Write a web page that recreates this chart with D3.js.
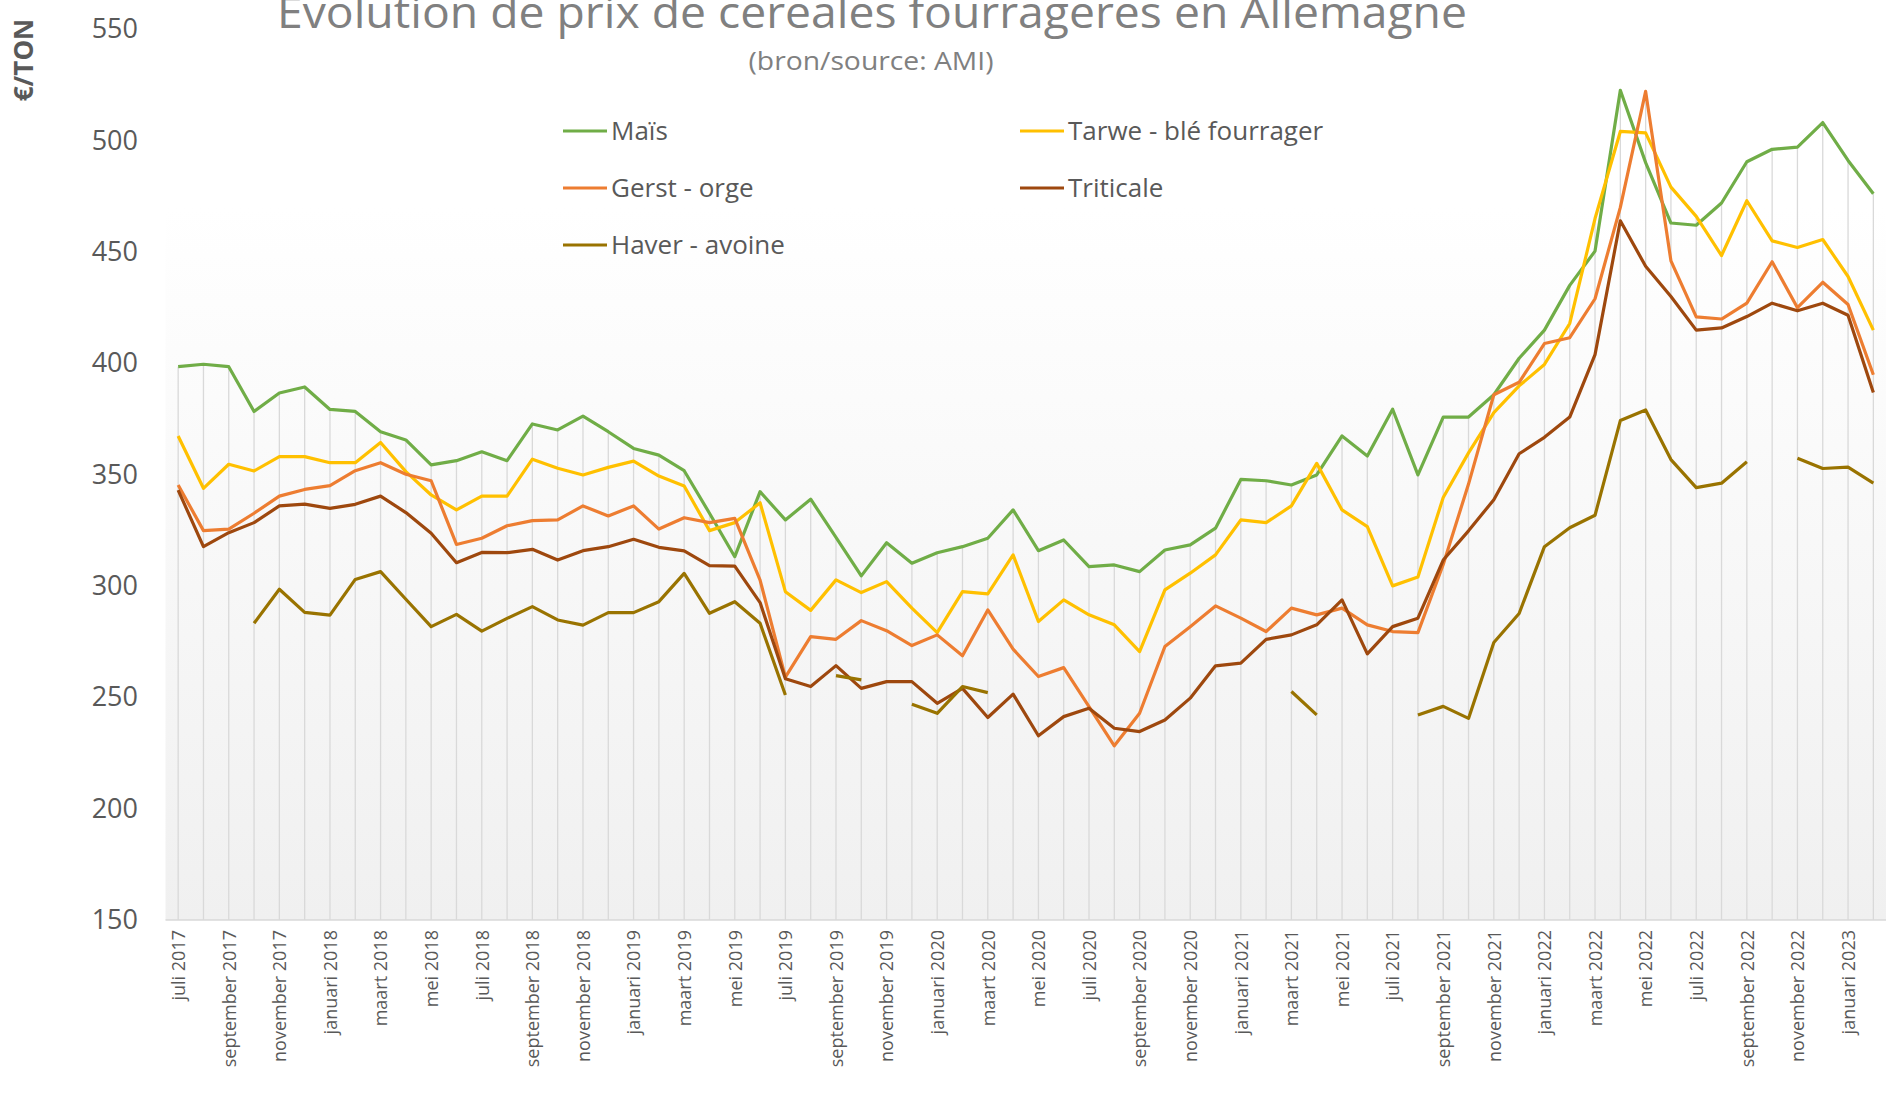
<!DOCTYPE html>
<html>
<head>
<meta charset="utf-8">
<script src="https://cdn.jsdelivr.net/npm/d3@7"></script>
<style>
  html, body { margin: 0; padding: 0; background: #fff; }
  svg { display: block; }
  text { font-family: "Open Sans", "Noto Sans", sans-serif; }
</style>
</head>
<body>
<div id="chart"></div>
<script>
// monthly categories, juli 2017 .. februari 2023
const monthNames = ['januari','februari','maart','april','mei','juni','juli','augustus','september','oktober','november','december'];
const months = d3.range(68).map(i => {
  const m = (6 + i) % 12;
  const y = 2017 + Math.floor((6 + i) / 12);
  return monthNames[m] + ' ' + y;
});

const mais = [398.4,399.5,398.4,378.3,386.6,389.3,379.2,378.3,369.2,365.5,354.3,356.2,
  360.2,356.2,372.7,370.0,376.2,369.2,361.7,358.7,351.7,332.6,313.1,342.3,
  329.6,338.9,321.8,304.5,319.4,310.2,314.9,317.6,321.4,334.1,315.8,320.6,
  308.6,309.4,306.4,316.1,318.4,325.9,347.8,347.2,345.3,349.8,367.3,358.3,
  379.3,349.8,375.8,375.8,385.8,402.2,414.8,434.9,450.3,522.5,490.0,462.9,
  461.9,471.9,490.4,496.0,497.0,508.0,491.0,476.0];

const tarwe = [367.3,343.8,354.6,351.6,358.0,358.0,355.3,355.3,364.4,351.3,340.8,334.1,
  340.3,340.3,356.9,352.8,349.8,353.2,356.0,349.3,344.8,324.8,328.4,337.3,
  297.4,289.0,302.7,297.0,301.9,290.0,279.0,297.4,296.4,313.9,284.0,293.7,
  287.0,282.5,270.5,298.2,305.7,313.9,329.6,328.4,335.9,355.0,334.1,326.6,
  300.0,304.0,339.7,359.7,377.8,389.8,399.4,417.8,464.9,504.0,503.4,479.0,
  465.9,448.3,472.9,454.9,451.9,455.5,438.9,414.8];

const gerst = [345.3,324.8,325.5,332.6,340.3,343.3,345.0,351.7,355.3,350.1,347.2,318.6,
  321.4,327.0,329.3,329.6,335.9,331.4,335.9,325.5,330.6,328.4,330.3,302.6,
  259.0,277.2,276.0,284.4,279.9,273.2,278.0,268.6,289.2,271.6,259.3,263.3,
  245.8,228.2,242.8,272.8,281.7,291.0,285.5,279.5,290.0,287.0,290.0,282.5,
  279.5,279.0,309.6,345.7,385.8,391.4,408.8,411.4,428.9,469.9,522.0,445.9,
  420.8,419.8,426.9,445.5,424.9,436.3,426.3,394.8];

const triticale = [343.0,317.6,323.9,328.4,335.9,336.7,334.8,336.6,340.3,332.9,323.6,310.4,
  315.0,314.9,316.4,311.6,315.8,317.6,320.9,317.3,315.7,309.1,308.9,292.5,
  258.3,254.8,264.2,254.0,257.0,257.0,247.3,254.0,240.9,251.4,232.7,241.3,
  245.1,236.1,234.6,239.8,249.6,264.1,265.3,276.0,278.0,282.5,293.7,269.5,
  281.7,285.5,311.6,324.7,338.7,359.3,366.7,375.8,403.8,463.9,443.5,429.9,
  414.8,415.8,420.9,426.9,423.5,426.9,421.5,386.8];

const haver = [null,null,null,283.2,298.5,288.1,286.9,302.9,306.4,294.0,281.7,287.2,
  279.7,285.4,290.7,284.7,282.4,288.0,288.0,292.9,305.6,287.7,292.9,283.2,
  251.0,null,259.7,257.8,null,246.9,242.8,254.8,252.1,null,null,null,
  null,null,null,null,null,null,null,null,252.6,242.1,null,null,
  null,242.0,245.9,240.5,274.6,287.6,317.6,326.1,331.7,374.2,379.0,356.7,
  344.1,346.1,355.7,null,357.3,352.7,353.3,346.1];

const yTicks = [150,200,250,300,350,400,450,500,550];

const series = [
  {name: 'Maïs', values: mais, color: '#70AD47'},
  {name: 'Tarwe - blé fourrager', values: tarwe, color: '#FFC000'},
  {name: 'Gerst - orge', values: gerst, color: '#ED7D31'},
  {name: 'Triticale', values: triticale, color: '#9E480E'},
  {name: 'Haver - avoine', values: haver, color: '#997300'}
];

const W = 1886, H = 1099;
const svg = d3.select('#chart').append('svg').attr('width', W).attr('height', H);

const x = d3.scalePoint().domain(months).range([165.5, 1886]).padding(0.5);
const y = d3.scaleLinear().domain([150, 550]).range([920, 29]);

// plot background gradient
const grad = svg.append('defs').append('linearGradient')
  .attr('id', 'bg').attr('x1', 0).attr('y1', 0).attr('x2', 0).attr('y2', 1);
grad.append('stop').attr('offset', '0%').attr('stop-color', '#ffffff');
grad.append('stop').attr('offset', '20%').attr('stop-color', '#ffffff');
grad.append('stop').attr('offset', '100%').attr('stop-color', '#f0f0f0');
svg.append('rect').attr('x', 165.5).attr('y', y(550)).attr('width', W - 165.5)
  .attr('height', y(150) - y(550)).attr('fill', 'url(#bg)');

// drop lines from the highest value down to the axis
svg.append('g').selectAll('line').data(months).enter().append('line')
  .attr('x1', d => x(d)).attr('x2', d => x(d))
  .attr('y1', (d, i) => y(d3.max(series, s => s.values[i])))
  .attr('y2', y(150))
  .attr('stroke', '#d9d9d9').attr('stroke-width', 1.3);

// axis line
svg.append('line').attr('x1', 165.5).attr('x2', W).attr('y1', y(150)).attr('y2', y(150))
  .attr('stroke', '#d9d9d9').attr('stroke-width', 1.5);

// y axis labels
const yAxis = d3.axisLeft(y).tickValues(yTicks).tickSize(0).tickPadding(0);
const gy = svg.append('g').attr('transform', 'translate(138,0)').call(yAxis);
gy.select('.domain').remove();
gy.selectAll('text').attr('fill', '#595959').attr('font-size', 27)
  .attr('font-family', '"Open Sans", sans-serif');

// x axis labels (every other month)
const xAxis = d3.axisBottom(x).tickValues(months.filter((d, i) => i % 2 === 0)).tickSize(0);
const gx = svg.append('g').attr('transform', 'translate(0,930)').call(xAxis);
gx.select('.domain').remove();
gx.selectAll('text')
  .attr('transform', 'rotate(-90)')
  .attr('text-anchor', 'end')
  .attr('x', 0).attr('y', 0).attr('dy', '0.35em')
  .attr('fill', '#595959').attr('font-size', 18)
  .attr('font-family', '"Open Sans", sans-serif');

// lines
const line = d3.line().defined(d => d != null).x((d, i) => x(months[i])).y(d => y(d));
svg.append('g').selectAll('path').data(series).enter().append('path')
  .attr('d', s => line(s.values))
  .attr('fill', 'none').attr('stroke', s => s.color).attr('stroke-width', 3.2)
  .attr('stroke-linejoin', 'round');

// titles
svg.append('text').attr('x', 872).attr('y', 28).attr('text-anchor', 'middle')
  .attr('font-size', 44).attr('fill', '#808080')
  .attr('textLength', 1190).attr('lengthAdjust', 'spacingAndGlyphs')
  .text('Evolution de prix de cereales fourrageres en Allemagne');
svg.append('text').attr('x', 871).attr('y', 70).attr('text-anchor', 'middle')
  .attr('font-size', 25).attr('fill', '#808080')
  .attr('textLength', 245).attr('lengthAdjust', 'spacingAndGlyphs')
  .text('(bron/source: AMI)');

// y axis title
svg.append('text').attr('transform', 'translate(33,60) rotate(-90)')
  .attr('text-anchor', 'middle').attr('font-size', 26).attr('font-weight', 700)
  .attr('fill', '#595959').text('€/TON');

// legend
const legendPos = [[563, 131], [1020, 131], [563, 188], [1020, 188], [563, 245]];
const order = [0, 1, 2, 3, 4];
const lg = svg.append('g').selectAll('g').data(order).enter().append('g')
  .attr('transform', (d, i) => `translate(${legendPos[i][0]},${legendPos[i][1]})`);
lg.append('line').attr('x1', 0).attr('x2', 44).attr('y1', 0).attr('y2', 0)
  .attr('stroke', d => series[d].color).attr('stroke-width', 3.2);
lg.append('text').attr('x', 48).attr('dy', '0.35em').attr('font-size', 26)
  .attr('fill', '#595959').text(d => series[d].name);
</script>
</body>
</html>
